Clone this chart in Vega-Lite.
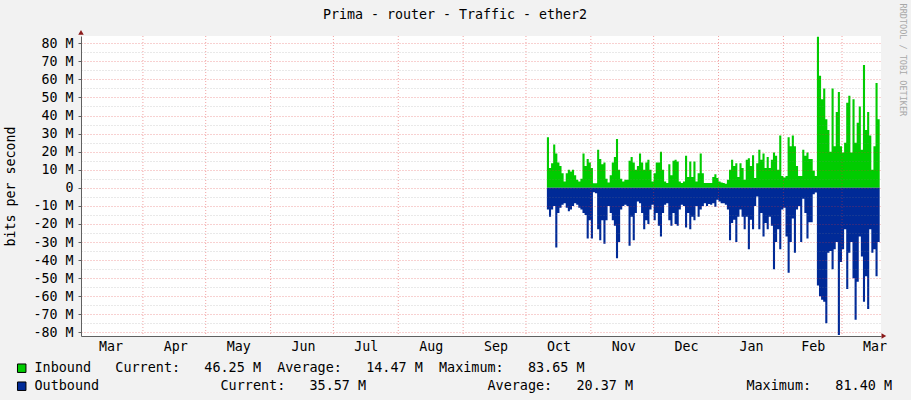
{
  "$schema": "https://vega.github.io/schema/vega-lite/v6.json",
  "width": 800,
  "height": 300,
  "autosize": {"type": "none"},
  "padding": {"left": 81, "top": 36, "right": 30, "bottom": 64},
  "background": "#f2f2f2",
  "config": {"view": {"fill": "#ffffff", "stroke": null}, "font": "DejaVu Sans Mono", "axisY": {"labelOverlap": false}},
  "title": {"text": "Prima - router - Traffic - ether2", "font": "DejaVu Sans Mono", "fontSize": 13.3, "fontWeight": "normal", "color": "#000000", "anchor": "middle", "dx": -26, "offset": -18},
  "datasets": {
    "months": [
      {"d": "2018-04-01"}, {"d": "2018-05-01"}, {"d": "2018-06-01"}, {"d": "2018-07-01"},
      {"d": "2018-08-01"}, {"d": "2018-09-01"}, {"d": "2018-10-01"}, {"d": "2018-11-01"},
      {"d": "2018-12-01"}, {"d": "2019-01-01"}, {"d": "2019-02-01"}, {"d": "2019-03-01"}
    ],
    "traffic": [
      {"d": "2018-10-11", "i": 28, "o": -12},
      {"d": "2018-10-12", "i": 11, "o": -16},
      {"d": "2018-10-13", "i": 13.6, "o": -12},
      {"d": "2018-10-14", "i": 24, "o": -10},
      {"d": "2018-10-15", "i": 19, "o": -33},
      {"d": "2018-10-16", "i": 14, "o": -14},
      {"d": "2018-10-17", "i": 12, "o": -11},
      {"d": "2018-10-18", "i": 8, "o": -9.4},
      {"d": "2018-10-19", "i": 3.5, "o": -8.5},
      {"d": "2018-10-20", "i": 8, "o": -11},
      {"d": "2018-10-21", "i": 10, "o": -13},
      {"d": "2018-10-22", "i": 9, "o": -12},
      {"d": "2018-10-23", "i": 10, "o": -10},
      {"d": "2018-10-24", "i": 7, "o": -8.5},
      {"d": "2018-10-25", "i": 4.4, "o": -9.4},
      {"d": "2018-10-26", "i": 3.5, "o": -11},
      {"d": "2018-10-27", "i": 5, "o": -12},
      {"d": "2018-10-28", "i": 19, "o": -14},
      {"d": "2018-10-29", "i": 12, "o": -15},
      {"d": "2018-10-30", "i": 16, "o": -28},
      {"d": "2018-10-31", "i": 14, "o": -18},
      {"d": "2018-11-01", "i": 11, "o": -28},
      {"d": "2018-11-02", "i": 2.5, "o": -2.5},
      {"d": "2018-11-03", "i": 2.5, "o": -3},
      {"d": "2018-11-04", "i": 21, "o": -23},
      {"d": "2018-11-05", "i": 16, "o": -29},
      {"d": "2018-11-06", "i": 13, "o": -18},
      {"d": "2018-11-07", "i": 14, "o": -31},
      {"d": "2018-11-08", "i": 5, "o": -18},
      {"d": "2018-11-09", "i": 3, "o": -10},
      {"d": "2018-11-10", "i": 7, "o": -14},
      {"d": "2018-11-11", "i": 14, "o": -18},
      {"d": "2018-11-12", "i": 17, "o": -21},
      {"d": "2018-11-13", "i": 27, "o": -39},
      {"d": "2018-11-14", "i": 10, "o": -30},
      {"d": "2018-11-15", "i": 5, "o": -12},
      {"d": "2018-11-16", "i": 3.5, "o": -10},
      {"d": "2018-11-17", "i": 4.4, "o": -9.4},
      {"d": "2018-11-18", "i": 4.4, "o": -10},
      {"d": "2018-11-19", "i": 15, "o": -32},
      {"d": "2018-11-20", "i": 17, "o": -16},
      {"d": "2018-11-21", "i": 14, "o": -29},
      {"d": "2018-11-22", "i": 10, "o": -14},
      {"d": "2018-11-23", "i": 12, "o": -7.6},
      {"d": "2018-11-24", "i": 19, "o": -8.5},
      {"d": "2018-11-25", "i": 14, "o": -14},
      {"d": "2018-11-26", "i": 10, "o": -23},
      {"d": "2018-11-27", "i": 14, "o": -18},
      {"d": "2018-11-28", "i": 15.5, "o": -20},
      {"d": "2018-11-29", "i": 10, "o": -12},
      {"d": "2018-11-30", "i": 3.5, "o": -9.4},
      {"d": "2018-12-01", "i": 8, "o": -18},
      {"d": "2018-12-02", "i": 14, "o": -14},
      {"d": "2018-12-03", "i": 14, "o": -21},
      {"d": "2018-12-04", "i": 20, "o": -27},
      {"d": "2018-12-05", "i": 10, "o": -14},
      {"d": "2018-12-06", "i": 3.5, "o": -9.4},
      {"d": "2018-12-07", "i": 2.6, "o": -8.5},
      {"d": "2018-12-08", "i": 13, "o": -18},
      {"d": "2018-12-09", "i": 7, "o": -21},
      {"d": "2018-12-10", "i": 15, "o": -14},
      {"d": "2018-12-11", "i": 15.5, "o": -20},
      {"d": "2018-12-12", "i": 14.6, "o": -21},
      {"d": "2018-12-13", "i": 3.5, "o": -12},
      {"d": "2018-12-14", "i": 2.6, "o": -9.4},
      {"d": "2018-12-15", "i": 3.5, "o": -10},
      {"d": "2018-12-16", "i": 17.7, "o": -22},
      {"d": "2018-12-17", "i": 6, "o": -14},
      {"d": "2018-12-18", "i": 14.6, "o": -23},
      {"d": "2018-12-19", "i": 6, "o": -16},
      {"d": "2018-12-20", "i": 14.6, "o": -18},
      {"d": "2018-12-21", "i": 3.5, "o": -10},
      {"d": "2018-12-22", "i": 8, "o": -16},
      {"d": "2018-12-23", "i": 19, "o": -12},
      {"d": "2018-12-24", "i": 8, "o": -10},
      {"d": "2018-12-25", "i": 2.6, "o": -8.5},
      {"d": "2018-12-26", "i": 2.6, "o": -10},
      {"d": "2018-12-27", "i": 2.6, "o": -9},
      {"d": "2018-12-28", "i": 2.6, "o": -9.4},
      {"d": "2018-12-29", "i": 6, "o": -8.5},
      {"d": "2018-12-30", "i": 7.5, "o": -10.5},
      {"d": "2018-12-31", "i": 5.4, "o": -6.6},
      {"d": "2019-01-01", "i": 3.5, "o": -7.6},
      {"d": "2019-01-02", "i": 3, "o": -8.5},
      {"d": "2019-01-03", "i": 2.6, "o": -8.5},
      {"d": "2019-01-04", "i": 2.2, "o": -9.4},
      {"d": "2019-01-05", "i": 4.4, "o": -12},
      {"d": "2019-01-06", "i": 10, "o": -29},
      {"d": "2019-01-07", "i": 15.5, "o": -19.5},
      {"d": "2019-01-08", "i": 12, "o": -17.7},
      {"d": "2019-01-09", "i": 13.6, "o": -30},
      {"d": "2019-01-10", "i": 6, "o": -16},
      {"d": "2019-01-11", "i": 13.6, "o": -12},
      {"d": "2019-01-12", "i": 11, "o": -16},
      {"d": "2019-01-13", "i": 4.4, "o": -23},
      {"d": "2019-01-14", "i": 15.5, "o": -16},
      {"d": "2019-01-15", "i": 16.4, "o": -34},
      {"d": "2019-01-16", "i": 12, "o": -17.7},
      {"d": "2019-01-17", "i": 18, "o": -23},
      {"d": "2019-01-18", "i": 5.4, "o": -10},
      {"d": "2019-01-19", "i": 13.6, "o": -4.8},
      {"d": "2019-01-20", "i": 21, "o": -23},
      {"d": "2019-01-21", "i": 15.5, "o": -14},
      {"d": "2019-01-22", "i": 19, "o": -27},
      {"d": "2019-01-23", "i": 11, "o": -19.5},
      {"d": "2019-01-24", "i": 17, "o": -23},
      {"d": "2019-01-25", "i": 11, "o": -16},
      {"d": "2019-01-26", "i": 15.5, "o": -21},
      {"d": "2019-01-27", "i": 19.5, "o": -45},
      {"d": "2019-01-28", "i": 17.7, "o": -30},
      {"d": "2019-01-29", "i": 10, "o": -23},
      {"d": "2019-01-30", "i": 29, "o": -34},
      {"d": "2019-01-31", "i": 6.6, "o": -12},
      {"d": "2019-02-01", "i": 5.7, "o": -11},
      {"d": "2019-02-02", "i": 6.6, "o": -27},
      {"d": "2019-02-03", "i": 28, "o": -47},
      {"d": "2019-02-04", "i": 23, "o": -30},
      {"d": "2019-02-05", "i": 29, "o": -17},
      {"d": "2019-02-06", "i": 23, "o": -36},
      {"d": "2019-02-07", "i": 12, "o": -12},
      {"d": "2019-02-08", "i": 6.6, "o": -10},
      {"d": "2019-02-09", "i": 6.6, "o": -30},
      {"d": "2019-02-10", "i": 21, "o": -6},
      {"d": "2019-02-11", "i": 17.7, "o": -14},
      {"d": "2019-02-12", "i": 19.5, "o": -28},
      {"d": "2019-02-13", "i": 16, "o": -19},
      {"d": "2019-02-14", "i": 16, "o": -19},
      {"d": "2019-02-15", "i": 9.4, "o": -3.5},
      {"d": "2019-02-16", "i": 6.6, "o": -2.6},
      {"d": "2019-02-17", "i": 83.65, "o": -54},
      {"d": "2019-02-18", "i": 62, "o": -60},
      {"d": "2019-02-19", "i": 49, "o": -62},
      {"d": "2019-02-20", "i": 55, "o": -63},
      {"d": "2019-02-21", "i": 38, "o": -75},
      {"d": "2019-02-22", "i": 32, "o": -36},
      {"d": "2019-02-23", "i": 20, "o": -35},
      {"d": "2019-02-24", "i": 55, "o": -45},
      {"d": "2019-02-25", "i": 23, "o": -34},
      {"d": "2019-02-26", "i": 42, "o": -30},
      {"d": "2019-02-27", "i": 53, "o": -81.4},
      {"d": "2019-02-28", "i": 23, "o": -41},
      {"d": "2019-03-01", "i": 19.5, "o": -34},
      {"d": "2019-03-02", "i": 25, "o": -23},
      {"d": "2019-03-03", "i": 47, "o": -56},
      {"d": "2019-03-04", "i": 51, "o": -36},
      {"d": "2019-03-05", "i": 19.5, "o": -30},
      {"d": "2019-03-06", "i": 49, "o": -50},
      {"d": "2019-03-07", "i": 25, "o": -73},
      {"d": "2019-03-08", "i": 36, "o": -52},
      {"d": "2019-03-09", "i": 45, "o": -27},
      {"d": "2019-03-10", "i": 21, "o": -38},
      {"d": "2019-03-11", "i": 68, "o": -63},
      {"d": "2019-03-12", "i": 32, "o": -49},
      {"d": "2019-03-13", "i": 42, "o": -67},
      {"d": "2019-03-14", "i": 29, "o": -23},
      {"d": "2019-03-15", "i": 10, "o": -36},
      {"d": "2019-03-16", "i": 23, "o": -34},
      {"d": "2019-03-17", "i": 58, "o": -49},
      {"d": "2019-03-18", "i": 38, "o": -30},
      {"d": "2019-03-19", "i": 46.25, "o": -35.57}
    ]
  },
  "layer": [
    {
      "data": {"name": "traffic"},
      "mark": {"type": "area", "interpolate": "step-after"},
      "encoding": {
        "x": {
          "field": "d", "type": "temporal",
          "scale": {"type": "utc", "domain": [{"year": 2018, "month": 3, "date": 2, "hours": 10, "utc": true}, {"year": 2019, "month": 3, "date": 19, "hours": 15, "utc": true}]},
          "axis": {
            "title": null, "grid": false, "ticks": false, "domainColor": "#606060",
            "labelFont": "DejaVu Sans Mono", "labelFontSize": 13.3, "labelColor": "#000000", "labelPadding": 3,
            "labelOverlap": false, "labelFlush": false, "format": "%b",
            "values": [
              {"year": 2018, "month": 3, "date": 16, "hours": 12, "utc": true},
              {"year": 2018, "month": 4, "date": 16, "hours": 12, "utc": true},
              {"year": 2018, "month": 5, "date": 16, "hours": 12, "utc": true},
              {"year": 2018, "month": 6, "date": 16, "hours": 12, "utc": true},
              {"year": 2018, "month": 7, "date": 16, "hours": 12, "utc": true},
              {"year": 2018, "month": 8, "date": 16, "hours": 12, "utc": true},
              {"year": 2018, "month": 9, "date": 16, "hours": 12, "utc": true},
              {"year": 2018, "month": 10, "date": 16, "hours": 12, "utc": true},
              {"year": 2018, "month": 11, "date": 16, "hours": 12, "utc": true},
              {"year": 2018, "month": 12, "date": 16, "hours": 12, "utc": true},
              {"year": 2019, "month": 1, "date": 16, "hours": 12, "utc": true},
              {"year": 2019, "month": 2, "date": 15, "hours": 0, "utc": true},
              {"year": 2019, "month": 3, "date": 16, "hours": 12, "utc": true}
            ]
          }
        },
        "y": {
          "field": "i", "type": "quantitative",
          "scale": {"domain": [-82, 84], "nice": false},
          "axis": {
            "title": "bits per second", "titleFont": "DejaVu Sans Mono", "titleFontSize": 13.3, "titleFontWeight": "normal", "titleColor": "#000000",
            "titleAngle": 270, "titleX": -71, "titleY": 150, "titleAlign": "center", "titleBaseline": "middle",
            "values": [-80, -75, -70, -65, -60, -55, -50, -45, -40, -35, -30, -25, -20, -15, -10, -5, 0, 5, 10, 15, 20, 25, 30, 35, 40, 45, 50, 55, 60, 65, 70, 75, 80],
            "tickCount": 33,
            "labelExpr": "datum.value % 10 != 0 ? '' : (datum.value == 0 ? '0' : datum.value + ' M')",
            "labelFont": "DejaVu Sans Mono", "labelFontSize": 13.3, "labelColor": "#000000", "labelPadding": 5, "labelOverlap": false,
            "tickSize": 3, "tickColor": "#606060",
            "tickOpacity": {"condition": {"test": "datum.value % 10 != 0", "value": 0}, "value": 1},
            "domainColor": "#606060",
            "grid": true,
            "gridColor": {"condition": {"test": "datum.value % 10 != 0", "value": "#808080"}, "value": "#e03030"},
            "gridOpacity": {"condition": {"test": "datum.value % 10 != 0", "value": 0.35}, "value": 0.45},
            "gridDash": [1, 2],
            "zindex": 1
          }
        },
        "color": {
          "datum": "Inbound",
          "scale": {"domain": ["Inbound", "Outbound"], "range": ["#00CC00", "#002A97"]},
          "legend": {
            "title": null, "orient": "none", "legendX": -66, "legendY": 325.5, "direction": "vertical",
            "symbolType": "square", "symbolSize": 72, "symbolStrokeColor": "#000000", "symbolStrokeWidth": 1,
            "labelFont": "DejaVu Sans Mono", "labelFontSize": 13.45, "labelColor": "#000000", "labelLimit": 2000,
            "labelOffset": 6, "rowPadding": 3, "padding": 0,
            "labelExpr": "datum.label == 'Inbound' ? 'Inbound\u00a0\u00a0\u00a0Current:\u00a0\u00a0\u00a046.25\u00a0M\u00a0\u00a0Average:\u00a0\u00a0\u00a014.47\u00a0M\u00a0\u00a0Maximum:\u00a0\u00a0\u00a083.65\u00a0M' : 'Outbound\u00a0\u00a0\u00a0\u00a0\u00a0\u00a0\u00a0\u00a0\u00a0\u00a0\u00a0\u00a0\u00a0\u00a0\u00a0Current:\u00a0\u00a0\u00a035.57\u00a0M\u00a0\u00a0\u00a0\u00a0\u00a0\u00a0\u00a0\u00a0\u00a0\u00a0\u00a0\u00a0\u00a0\u00a0\u00a0Average:\u00a0\u00a0\u00a020.37\u00a0M\u00a0\u00a0\u00a0\u00a0\u00a0\u00a0\u00a0\u00a0\u00a0\u00a0\u00a0\u00a0\u00a0\u00a0Maximum:\u00a0\u00a0\u00a081.40\u00a0M'"
          }
        }
      }
    },
    {
      "data": {"name": "traffic"},
      "mark": {"type": "area", "interpolate": "step-after"},
      "encoding": {
        "x": {"field": "d", "type": "temporal", "scale": {"type": "utc", "domain": [{"year": 2018, "month": 3, "date": 2, "hours": 10, "utc": true}, {"year": 2019, "month": 3, "date": 19, "hours": 15, "utc": true}]}},
        "y": {"field": "o", "type": "quantitative", "scale": {"domain": [-82, 84], "nice": false}, "axis": {"title": "bits per second"}},
        "color": {"datum": "Outbound"}
      }
    },
    {
      "data": {"name": "months"},
      "mark": {"type": "rule", "color": "#e03030", "opacity": 0.45, "strokeDash": [1, 2], "strokeWidth": 1},
      "encoding": {
        "x": {"field": "d", "type": "temporal", "scale": {"type": "utc", "domain": [{"year": 2018, "month": 3, "date": 2, "hours": 10, "utc": true}, {"year": 2019, "month": 3, "date": 19, "hours": 15, "utc": true}]}}
      }
    },
    {
      "data": {"values": [{}]},
      "mark": {"type": "point", "shape": "triangle-up", "filled": true, "size": 30, "color": "#8b1a1a", "opacity": 1},
      "encoding": {
        "x": {"datum": {"year": 2018, "month": 3, "date": 2, "hours": 10, "utc": true}, "type": "temporal"},
        "y": {"datum": 86, "type": "quantitative"}
      }
    },
    {
      "data": {"values": [{}]},
      "mark": {"type": "point", "shape": "triangle-right", "filled": true, "size": 30, "color": "#8b1a1a", "opacity": 1},
      "encoding": {
        "x": {"datum": {"year": 2019, "month": 3, "date": 21, "hours": 0, "utc": true}, "type": "temporal"},
        "y": {"datum": -82, "type": "quantitative"}
      }
    },
    {
      "data": {"values": [{}]},
      "mark": {"type": "text", "text": "RRDTOOL / TOBI OETIKER", "angle": 90, "align": "center", "baseline": "middle", "font": "DejaVu Sans Mono", "fontSize": 8.5, "color": "#a8a8a8"},
      "encoding": {
        "x": {"datum": {"year": 2019, "month": 3, "date": 30, "hours": 3, "utc": true}, "type": "temporal"},
        "y": {"datum": 70.8, "type": "quantitative"}
      }
    }
  ]
}
